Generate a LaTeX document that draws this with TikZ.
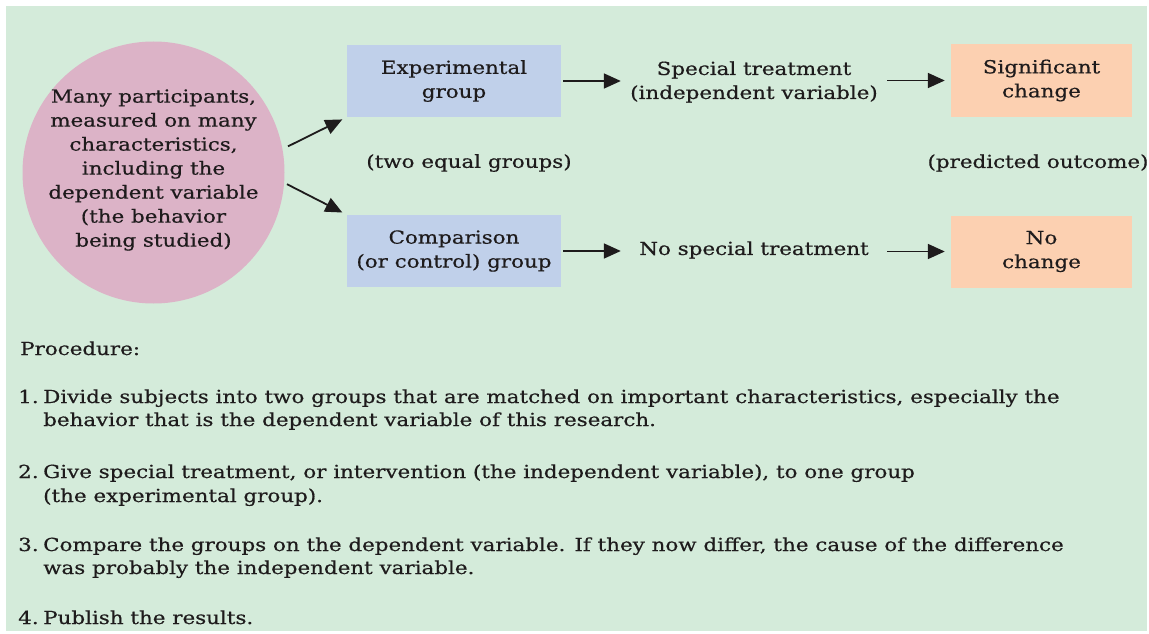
\documentclass[tikz,border=0pt]{standalone}
\usepackage{fontspec}
\setmainfont{DejaVu Serif}[FakeStretch=1.19,FakeBold=0.5]
\usetikzlibrary{arrows.meta,calc}
\definecolor{bgc}{RGB}{212,235,218}
\definecolor{pinkc}{RGB}{220,179,199}
\definecolor{bluec}{RGB}{192,208,234}
\definecolor{orangec}{RGB}{252,208,177}
\definecolor{txtc}{RGB}{30,27,28}
\tikzset{
  every node/.style={text=txtc},
  txt/.style={font=\fontsize{18}{24}\selectfont, align=center, inner sep=0pt},
  ltxt/.style={font=\fontsize{18}{24}\selectfont, inner sep=0pt, anchor=base west},
  gbox/.style={fill=bluec, minimum width=214pt, minimum height=72pt, inner sep=0pt},
  obox/.style={fill=orangec, minimum width=181pt, minimum height=72pt, inner sep=0pt},
  mid/.style={txt, minimum width=266pt},
  arr/.style={line width=1.8pt, draw=txtc, -{Triangle[length=17pt,width=15pt]}}
}
\begin{document}
\begin{tikzpicture}[x=1pt,y=-1pt]
\useasboundingbox (0,0) rectangle (1149,634);
\fill[bgc] (6,6) rectangle (1147,631);
% source circle
\node[circle, fill=pinkc, minimum size=262pt, inner sep=0pt] (src) at (153.5,172.5) {};
\node[txt] (srct) at (153.5,170) {Many participants,\\measured on many\\characteristics,\\including the\\dependent variable\\(the behavior\\being studied)};
% groups
\node[gbox] (exp) at (454,81) {};
\node[txt] (expt) at (exp) {Experimental\\group};
\node[gbox] (cmp) at (454,251) {};
\node[txt] (cmpt) at (cmp) {Comparison\\(or control) group};
\node[txt] (eq) at (469,163) {(two equal groups)};
% treatments
\node[mid] (spec) at (754,82) {Special treatment\\(independent variable)};
\node[mid] (nosp) at (754,250) {No special treatment};
% outcomes
\node[obox] (sig) at (1041.5,80.5) {};
\node[txt] (sigt) at (sig) {Significant\\change};
\node[obox] (noc) at (1041.5,251.5) {};
\node[txt] (noct) at (noc) {No\\change};
\node[txt] (pred) at (1038,163) {(predicted outcome)};
% arrows
\coordinate (s1) at ($(src.center)+(-11:137)$);
\coordinate (s2) at ($(src.center)+(5:134)$);
\draw[arr, shorten >=5pt] (s1) -- (exp.south west);
\draw[arr, shorten >=5pt] (s2) -- (cmp.north west);
\draw[arr] ([xshift=2pt]exp.east) -- (exp.east -| spec.west);
\draw[arr, shorten >=6pt] (spec.east |- sig.west) -- (sig.west);
\draw[arr] ([xshift=2pt]cmp.east) -- (cmp.east -| nosp.west);
\draw[arr, shorten >=6pt] (nosp.east |- noc.west) -- (noc.west);
% procedure
\node[ltxt] (proc) at (20,355) {Procedure:};
\node[ltxt] (n1) at (18,403) {1.};
\node[ltxt] (l1a) at (43,403) {Divide subjects into two groups that are matched on important characteristics, especially the};
\node[ltxt] (l1b) at (43,426) {behavior that is the dependent variable of this research.};
\node[ltxt] (n2) at (18,478) {2.};
\node[ltxt] (l2a) at (43,478) {Give special treatment, or intervention (the independent variable), to one group};
\node[ltxt] (l2b) at (43,502) {(the experimental group).};
\node[ltxt] (n3) at (18,551) {3.};
\node[ltxt] (l3a) at (43,551) {Compare the groups on the dependent variable. If they now differ, the cause of the difference};
\node[ltxt] (l3b) at (43,574) {was probably the independent variable.};
\node[ltxt] (n4) at (18,624) {4.};
\node[ltxt] (l4a) at (43,624) {Publish the results.};
\end{tikzpicture}
\end{document}
